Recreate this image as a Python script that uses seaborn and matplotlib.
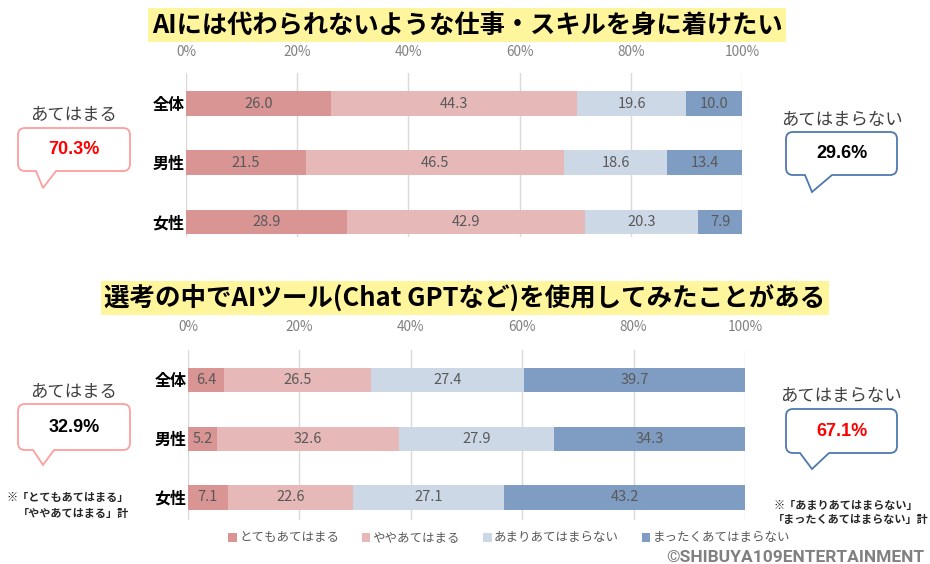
import numpy as np
import pandas as pd
import matplotlib
matplotlib.use("Agg")
import matplotlib.pyplot as plt
from matplotlib.path import Path
from matplotlib.patches import PathPatch, Patch
import seaborn as sns

# data
groups = ['全体', '男性', '女性']
categories = ['とてもあてはまる', 'ややあてはまる', 'あまりあてはまらない', 'まったくあてはまらない']
q1_totemo = [26.0, 21.5, 28.9]
q1_yaya = [44.3, 46.5, 42.9]
q1_amari = [19.6, 18.6, 20.3]
q1_mattaku = [10.0, 13.4, 7.9]
q2_totemo = [6.4, 5.2, 7.1]
q2_yaya = [26.5, 32.6, 22.6]
q2_amari = [27.4, 27.9, 27.1]
q2_mattaku = [39.7, 34.3, 43.2]
ticks = [0, 20, 40, 60, 80, 100]
tick_labels = ['0%', '20%', '40%', '60%', '80%', '100%']
title1 = 'AIには代わられないような仕事・スキルを身に着けたい'
title2 = '選考の中でAIツール(Chat GPTなど)を使用してみたことがある'

colors = ['#D99594', '#E6B9B8', '#CDD8E7', '#7F9CC2']

sns.set_theme(style='white')
plt.rcParams['font.family'] = ['Noto Sans CJK JP', 'DejaVu Sans']

W, H = 930, 564
fig = plt.figure(figsize=(W / 100, H / 100), dpi=100)


def px_rect(x0, y0, x1, y1):
    return [x0 / W, 1 - y1 / H, (x1 - x0) / W, (y1 - y0) / H]


def stacked(ax, series, ylim, pad):
    vals = np.array(series)            # (4, 3)
    shares = vals / vals.sum(axis=0) * 100
    cum = np.cumsum(shares, axis=0)
    for k in range(len(categories) - 1, -1, -1):
        df = pd.DataFrame({'group': groups, 'x': cum[k]})
        sns.barplot(data=df, x='x', y='group', orient='y', color=colors[k],
                    saturation=1, width=0.41, linewidth=0, ax=ax, zorder=2)
    lefts = np.vstack([np.zeros(len(groups)), cum[:-1]])
    for k in range(len(categories)):
        for i in range(len(groups)):
            ax.text((lefts[k, i] + cum[k, i]) / 2, i, f'{vals[k, i]:.1f}',
                    ha='center', va='center', fontsize=10.5, color='#595959',
                    zorder=3)
    ax.set_xlim(0, 100)
    ax.set_ylim(*ylim)
    ax.set_xticks(ticks)
    ax.set_xticklabels(tick_labels)
    ax.xaxis.set_ticks_position('top')
    ax.tick_params(axis='x', length=0, pad=pad, labelsize=9.8, labelcolor='#808080',
                   labeltop=True, labelbottom=False)
    ax.tick_params(axis='y', length=0, pad=1, labelsize=11.5, labelcolor='black')
    for lbl in ax.get_yticklabels():
        lbl.set_fontweight('bold')
    ax.xaxis.grid(True, color='#D9D9D9', lw=1, zorder=0)
    ax.set_axisbelow(True)
    ax.set_xlabel('')
    ax.set_ylabel('')
    for s in ax.spines.values():
        s.set_visible(False)


ax1 = fig.add_axes(px_rect(186, 73, 742, 237))
stacked(ax1, [q1_totemo, q1_yaya, q1_amari, q1_mattaku], (2.26, -0.517), 10)
ax2 = fig.add_axes(px_rect(188, 350, 745, 520))
stacked(ax2, [q2_totemo, q2_yaya, q2_amari, q2_mattaku], (2.383, -0.51), 11.5)

# overlay in pixel coordinates
ov = fig.add_axes([0, 0, 1, 1])
ov.set_xlim(0, W)
ov.set_ylim(H, 0)
ov.axis('off')
ov.patch.set_alpha(0)

ov.text(467, 25, title1, ha='center', va='center', fontsize=18.2, fontweight='bold',
        color='black', bbox=dict(boxstyle='square,pad=0.14', fc='#FFF59D', ec='none'))
ov.text(465, 298, title2, ha='center', va='center', fontsize=18.4, fontweight='bold',
        color='black', bbox=dict(boxstyle='square,pad=0.12', fc='#FFF59D', ec='none'))


def callout(x0, y0, x1, y1, bl, tip, br, color, r=7):
    tx, ty = tip
    verts = [(x0 + r, y0), (x1 - r, y0), (x1, y0), (x1, y0 + r), (x1, y1 - r),
             (x1, y1), (x1 - r, y1), (br, y1), (tx, ty), (bl, y1), (x0 + r, y1),
             (x0, y1), (x0, y1 - r), (x0, y0 + r), (x0, y0), (x0 + r, y0), (x0 + r, y0)]
    codes = [Path.MOVETO, Path.LINETO, Path.CURVE3, Path.CURVE3, Path.LINETO,
             Path.CURVE3, Path.CURVE3, Path.LINETO, Path.LINETO, Path.LINETO,
             Path.LINETO, Path.CURVE3, Path.CURVE3, Path.LINETO, Path.CURVE3,
             Path.CURVE3, Path.CLOSEPOLY]
    ov.add_patch(PathPatch(Path(verts, codes), fc='white', ec=color, lw=1.3))


pink = '#FF9E9E'
blue = '#4F78B0'
apply_top = q1_totemo[0] + q1_yaya[0]
notapply_top = q1_amari[0] + q1_mattaku[0]
apply_bot = q2_totemo[0] + q2_yaya[0]
notapply_bot = q2_amari[0] + q2_mattaku[0]

lab_kw = dict(ha='center', va='center', fontsize=12.5, color='#404040')
num_kw = dict(ha='center', va='center', fontsize=13, fontweight='bold',
              family=['Liberation Sans'])

# top left
ov.text(74, 115, 'あてはまる', **lab_kw)
callout(18, 128, 130, 171, 36, (43, 188), 56, pink)
ov.text(74, 150, f'{apply_top:.1f}%', color='#FF0000', **num_kw)
# top right
ov.text(842, 120, 'あてはまらない', **lab_kw)
callout(786, 132, 897, 175, 805, (812, 192), 832, blue)
ov.text(842, 154, f'{notapply_top:.1f}%', color='black', **num_kw)
# bottom left
ov.text(74, 392, 'あてはまる', **lab_kw)
callout(18, 404, 130, 450, 33, (43, 465), 54, pink)
ov.text(74, 427, f'{apply_bot:.1f}%', color='black', **num_kw)
# bottom right
ov.text(841, 396, 'あてはまらない', **lab_kw)
callout(786, 409, 897, 453, 800, (812, 469), 829, blue)
ov.text(842, 431, f'{notapply_bot:.1f}%', color='#FF0000', **num_kw)

# footnotes
note_kw = dict(fontsize=8, color='#262626', fontweight='bold', va='center')
ov.text(129, 498, '※「とてもあてはまる」', ha='right', **note_kw)
ov.text(129, 514, '「ややあてはまる」計', ha='right', **note_kw)
ov.text(773, 505, '※「あまりあてはまらない」', ha='left', **note_kw)
ov.text(773, 520, '「まったくあてはまらない」計', ha='left', **note_kw)

# legend
handles = [Patch(fc=c, ec='none') for c in colors]
fig.legend(handles, categories, loc='center', bbox_to_anchor=(509 / W, 1 - 538 / H),
           ncol=4, frameon=False, fontsize=9, handlelength=0.7, handleheight=0.7,
           handletextpad=0.2, columnspacing=1.8, labelcolor='#595959')

ov.text(924, 557, '©SHIBUYA109ENTERTAINMENT', ha='right', va='center', fontsize=12.5,
        fontweight='bold', color='#808080', family=['Roboto', 'DejaVu Sans'])

fig.savefig('out.png', dpi=100)
